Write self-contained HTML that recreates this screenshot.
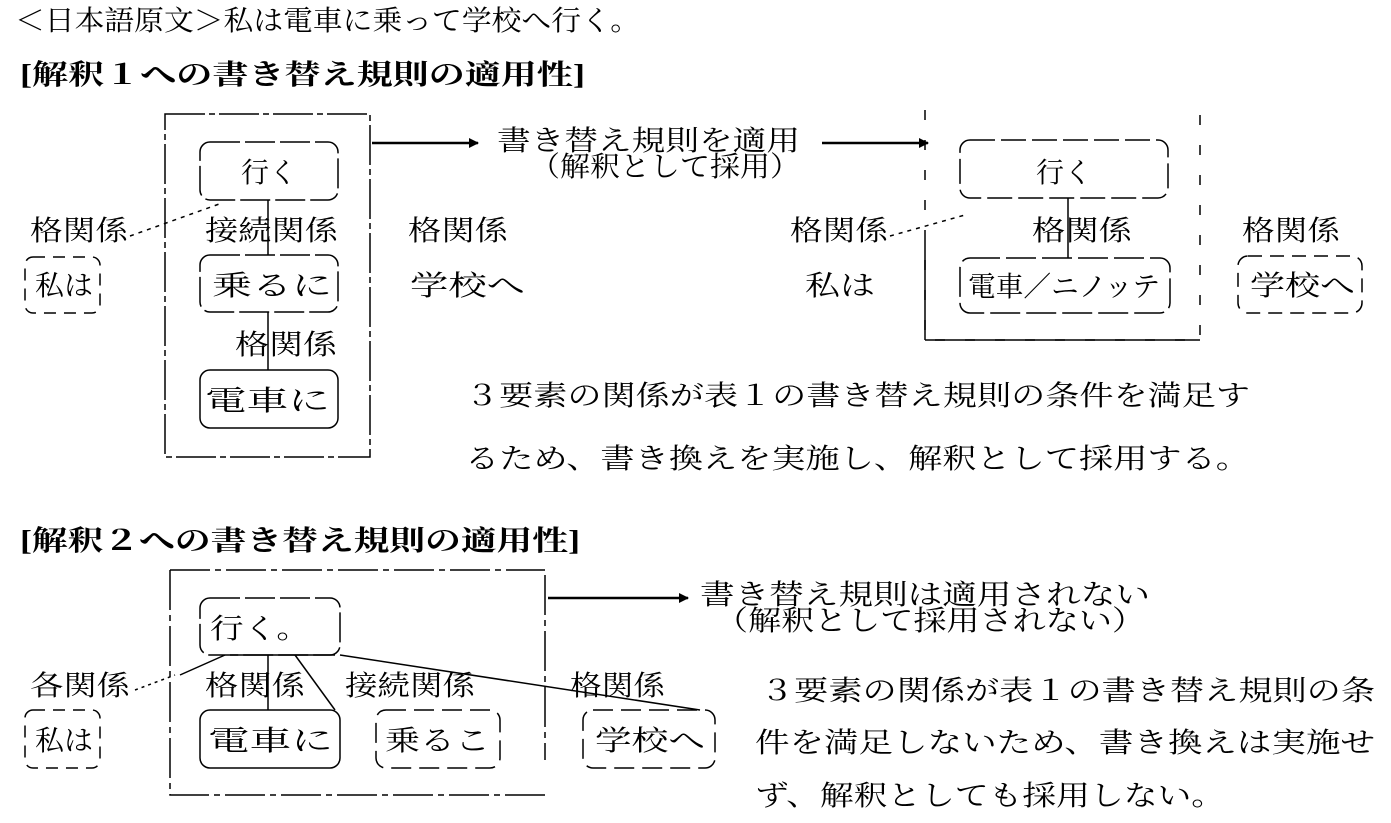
<!DOCTYPE html>
<html><head><meta charset="utf-8"><style>
body{margin:0;background:#fff}
svg{display:block}
text{font-family:"Liberation Serif","Noto Serif CJK SC","Noto Sans CJK JP",serif;font-size:28px;fill:#000}
.b{font-weight:bold}
.s{font-size:26px}
</style></head><body>
<svg width="1391" height="823" viewBox="0 0 1391 823" xmlns="http://www.w3.org/2000/svg">
<defs><marker id="a" markerWidth="10" markerHeight="10" refX="9" refY="5" orient="auto" markerUnits="userSpaceOnUse"><path d="M0,0 L10,5 L0,10 Z" fill="#000"/></marker></defs>
<g stroke="#000" fill="none" stroke-width="2">
<!-- Section 1 -->
<rect x="165" y="114" width="205" height="343" stroke-dasharray="40 4 6 4" stroke-width="1.5"/>
<rect x="200" y="142" width="138" height="58" rx="10" stroke-dasharray="30 5" stroke-width="1.5"/>
<rect x="200" y="255" width="138" height="57" rx="10" stroke-dasharray="30 5" stroke-width="1.5"/>
<rect x="200" y="370" width="138" height="58" rx="10" stroke-width="1.5"/>
<rect x="25" y="257" width="75" height="56" rx="8" stroke-dasharray="12 8" stroke-width="1.5"/>
<line x1="268" y1="200" x2="268" y2="255" stroke-width="1.5"/>
<line x1="268" y1="312" x2="268" y2="370" stroke-width="1.5"/>
<line x1="130" y1="236" x2="222" y2="203" stroke-dasharray="4 5" stroke-width="1.5"/>
<line x1="372" y1="143" x2="478" y2="143" marker-end="url(#a)" stroke-width="2.5"/>
<line x1="822" y1="143" x2="928" y2="143" marker-end="url(#a)" stroke-width="2.5"/>
<path d="M925 110 V340 H1200 V110" stroke-dasharray="10 20" stroke-width="1.5"/>
<line x1="925" y1="240" x2="925" y2="340" stroke-width="1.5"/>
<line x1="925" y1="340" x2="1200" y2="340" stroke-width="1.5"/>
<rect x="960" y="140" width="208" height="58" rx="10" stroke-dasharray="25 6" stroke-width="1.5"/>
<rect x="960" y="258" width="210" height="55" rx="10" stroke-dasharray="30 6" stroke-width="1.5"/>
<line x1="1068" y1="198" x2="1068" y2="258" stroke-width="1.5"/>
<line x1="890" y1="236" x2="965" y2="215" stroke-dasharray="4 5" stroke-width="1.5"/>
<rect x="1238" y="256" width="124" height="57" rx="10" stroke-dasharray="14 8" stroke-width="1.5"/>
<!-- Section 2 -->
<path d="M170 570 H545 M170 570 V795 H545 M545 575 V760" stroke-dasharray="40 5 6 5" stroke-width="1.5"/>
<rect x="200" y="598" width="140" height="57" rx="10" stroke-dasharray="30 5" stroke-width="1.5"/>
<rect x="200" y="710" width="140" height="58" rx="10" stroke-width="1.5"/>
<rect x="25" y="710" width="75" height="58" rx="8" stroke-dasharray="12 8" stroke-width="1.5"/>
<rect x="376" y="710" width="124" height="58" rx="10" stroke-dasharray="20 8" stroke-width="1.5"/>
<rect x="583" y="710" width="132" height="58" rx="10" stroke-dasharray="20 8" stroke-width="1.5"/>
<line x1="268" y1="655" x2="268" y2="710" stroke-width="1.5"/>
<line x1="230" y1="655" x2="335" y2="655" stroke-width="1.5"/>
<line x1="225" y1="655" x2="180" y2="675" stroke-width="1.5"/>
<line x1="295" y1="655" x2="335" y2="710" stroke-width="1.5"/>
<line x1="340" y1="655" x2="700" y2="710" stroke-width="1.5"/>
<line x1="135" y1="690" x2="175" y2="675" stroke-dasharray="3 4" stroke-width="1.5"/>
<line x1="548" y1="598" x2="688" y2="598" marker-end="url(#a)" stroke-width="2.5"/>
</g>
<text x="15" y="30" textLength="625" lengthAdjust="spacingAndGlyphs">＜日本語原文＞私は電車に乗って学校へ行く。</text>
<text class="b" x="20" y="84" textLength="565" lengthAdjust="spacingAndGlyphs">[解釈１への書き替え規則の適用性]</text>
<text x="269" y="182" text-anchor="middle">行く</text>
<text x="205" y="240" textLength="133" lengthAdjust="spacingAndGlyphs">接続関係</text>
<text x="212" y="295" textLength="120" lengthAdjust="spacingAndGlyphs">乗るに</text>
<text x="235" y="354" textLength="102" lengthAdjust="spacingAndGlyphs">格関係</text>
<text x="205" y="410" textLength="125" lengthAdjust="spacingAndGlyphs">電車に</text>
<text x="30" y="240" textLength="98" lengthAdjust="spacingAndGlyphs">格関係</text>
<text x="35" y="295" textLength="58" lengthAdjust="spacingAndGlyphs">私は</text>
<text x="497" y="150" textLength="303" lengthAdjust="spacingAndGlyphs">書き替え規則を適用</text>
<text x="530" y="176" textLength="270" lengthAdjust="spacingAndGlyphs">（解釈として採用）</text>
<text x="408" y="240" textLength="100" lengthAdjust="spacingAndGlyphs">格関係</text>
<text x="410" y="295" textLength="115" lengthAdjust="spacingAndGlyphs">学校へ</text>
<text x="790" y="240" textLength="98" lengthAdjust="spacingAndGlyphs">格関係</text>
<text x="805" y="295" textLength="70" lengthAdjust="spacingAndGlyphs">私は</text>
<text x="1064" y="182" text-anchor="middle">行く</text>
<text x="1032" y="240" textLength="100" lengthAdjust="spacingAndGlyphs">格関係</text>
<text x="968" y="296" textLength="192" lengthAdjust="spacingAndGlyphs">電車／ニノッテ</text>
<text x="1242" y="240" textLength="98" lengthAdjust="spacingAndGlyphs">格関係</text>
<text x="1250" y="295" textLength="105" lengthAdjust="spacingAndGlyphs">学校へ</text>
<text x="465" y="405" textLength="785" lengthAdjust="spacingAndGlyphs">３要素の関係が表１の書き替え規則の条件を満足す</text>
<text x="465" y="468" textLength="785" lengthAdjust="spacingAndGlyphs">るため、書き換えを実施し、解釈として採用する。</text>
<text class="b" x="20" y="550" textLength="560" lengthAdjust="spacingAndGlyphs">[解釈２への書き替え規則の適用性]</text>
<text x="210" y="638" textLength="100" lengthAdjust="spacingAndGlyphs">行く。</text>
<text x="30" y="695" textLength="100" lengthAdjust="spacingAndGlyphs">各関係</text>
<text x="205" y="695" textLength="100" lengthAdjust="spacingAndGlyphs">格関係</text>
<text x="345" y="695" textLength="130" lengthAdjust="spacingAndGlyphs">接続関係</text>
<text x="570" y="695" textLength="95" lengthAdjust="spacingAndGlyphs">格関係</text>
<text x="35" y="750" textLength="58" lengthAdjust="spacingAndGlyphs">私は</text>
<text x="208" y="750" textLength="125" lengthAdjust="spacingAndGlyphs">電車に</text>
<text x="385" y="750" textLength="105" lengthAdjust="spacingAndGlyphs">乗るこ</text>
<text x="595" y="750" textLength="110" lengthAdjust="spacingAndGlyphs">学校へ</text>
<text x="700" y="604" textLength="450" lengthAdjust="spacingAndGlyphs">書き替え規則は適用されない</text>
<text x="715" y="630" textLength="430" lengthAdjust="spacingAndGlyphs">（解釈として採用されない）</text>
<text x="760" y="700" textLength="615" lengthAdjust="spacingAndGlyphs">３要素の関係が表１の書き替え規則の条</text>
<text x="755" y="752" textLength="620" lengthAdjust="spacingAndGlyphs">件を満足しないため、書き換えは実施せ</text>
<text x="755" y="805" textLength="470" lengthAdjust="spacingAndGlyphs">ず、解釈としても採用しない。</text>
</svg>
</body></html>
